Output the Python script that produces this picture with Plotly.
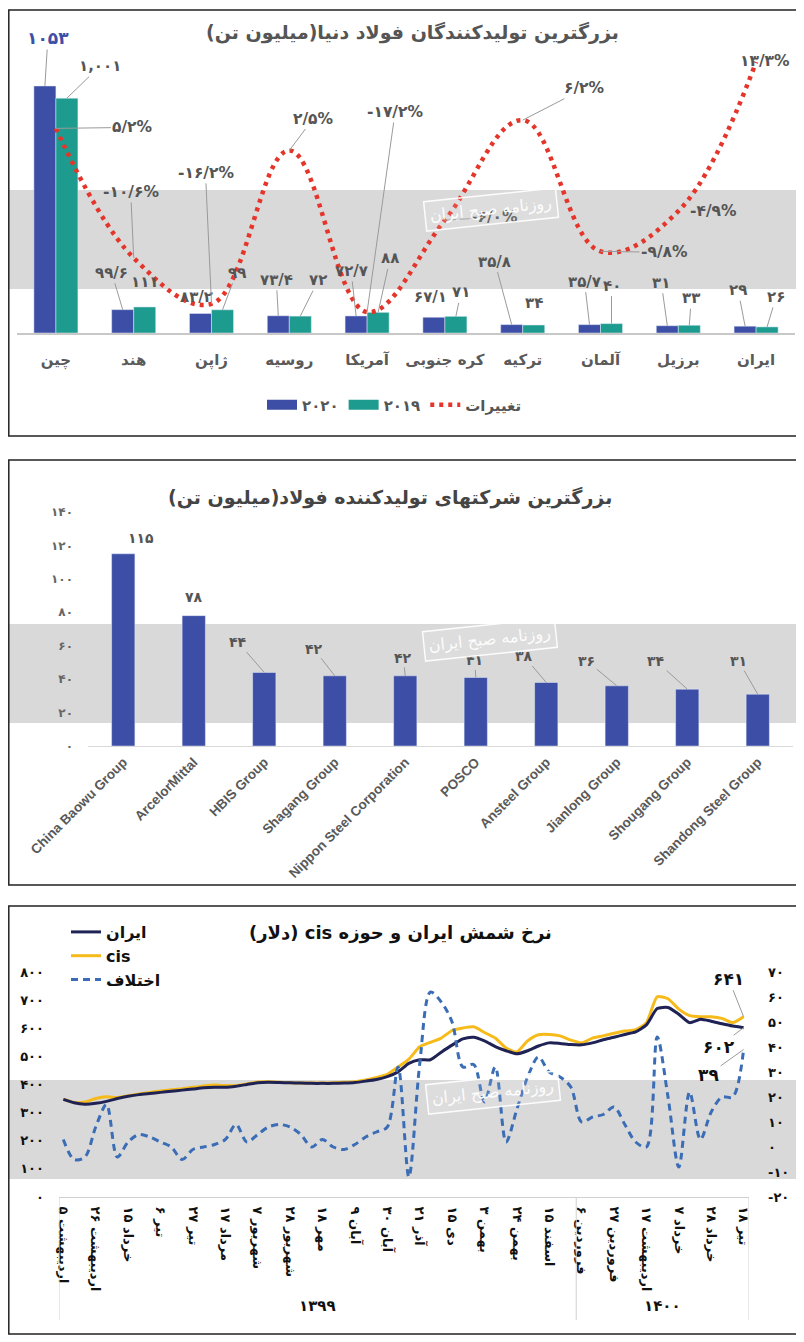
import plotly.graph_objects as go

# page body has an 8px margin: map reference pixels to figure pixels
OFF = 8
W, H = 804 - OFF, 1342 - OFF
def py(p): return 1 - (p - OFF) / H
def px(p): return (p - OFF) / W

FA = str.maketrans("0123456789.", "۰۱۲۳۴۵۶۷۸۹/")
def fa(v, comma=False):
    s = f"{v:,}" if comma else f"{v}"
    return s.translate(FA)
def rtl(s): return "\u202b" + s + "\u202c"

# ---------------- data ----------------
countries = ["چین", "هند", "ژاپن", "روسیه", "آمریکا", "کره جنوبی", "ترکیه", "آلمان", "برزیل", "ایران"]
prod_2020 = [1053, 99.6, 83.2, 73.4, 72.7, 67.1, 35.8, 35.7, 31, 29]
prod_2019 = [1001, 111, 99, 72, 88, 71, 34, 40, 33, 26]
change_pct = [5.2, -10.6, -16.2, 2.5, -17.2, -6.0, 6.2, -9.8, -4.9, 13.3]

companies = ["China Baowu Group", "ArcelorMittal", "HBIS Group", "Shagang Group",
             "Nippon Steel Corporation", "POSCO", "Ansteel Group", "Jianlong Group",
             "Shougang Group", "Shandong Steel Group"]
company_output = [115, 78, 44, 42, 42, 41, 38, 36, 34, 31]

week_labels = ["۵ اردیبهشت", "۲۶ اردیبهشت", "۱۵ خرداد", "۶ تیر", "۲۷ تیر", "۱۷ مرداد",
               "۷ شهریور", "۲۸ شهریور", "۱۸ مهر", "۹ آبان", "۳۰ آبان", "۲۱ آذر",
               "۱۵ دی", "۳ بهمن", "۲۴ بهمن", "۱۵ اسفند", "۶ فروردین", "۲۷ فروردین",
               "۱۷ اردیبهشت", "۷ خرداد", "۲۸ خرداد", "۱۸ تیر"]
year_labels = ["۱۳۹۹", "۱۴۰۰"]
iran_price = [347, 335, 330, 333, 340, 350, 358, 364, 368, 372, 376, 380, 384, 388, 390, 390,
              394, 400, 406, 408, 407, 406, 405, 404, 404, 404, 405, 407, 412, 418, 428, 445,
              475, 488, 488, 515, 540, 562, 568, 555, 535, 520, 509, 520, 537, 548, 546, 542,
              541, 548, 559, 568, 578, 587, 612, 670, 674, 650, 620, 632, 625, 616, 608, 602]
cis_price = [348, 336, 338, 350, 356, 354, 360, 366, 372, 377, 381, 385, 390, 395, 398, 396,
             396, 402, 409, 410, 408, 406, 405, 405, 405, 406, 408, 410, 416, 425, 436, 462,
             490, 534, 550, 565, 592, 601, 605, 585, 565, 530, 516, 555, 577, 578, 573, 558,
             548, 565, 573, 582, 590, 595, 620, 712, 705, 668, 645, 641, 641, 635, 620, 641]
price_gap = [3, -5, -4, 8, 17, -4, 2, 5, 4, 2, 0, -5, -1, 0, 1, 3,
             9, 2, 5, 8, 9, 8, 5, 0, 3, 0, -1, 1, 4, 6, 8, 32,
             -12, 33, 62, 58, 50, 32, 33, 18, 32, 2, 15, 28, 36, 30, 28, 24,
             10, 12, 13, 16, 9, 2, 0, 44, 20, -8, 22, 3, 14, 20, 20, 39]
weeks = list(range(len(iran_price)))

# ---------------- styles ----------------
BLUE = "#3D4EA6"
TEAL = "#1E9B8F"
RED = "#E5352B"
NAVY = "#1E2254"
GOLD = "#F6BA1A"
DASHB = "#3A6DB5"
GRAY_T = "#555555"
LEAD = "#9a9a9a"
FA_FONT = "DejaVu Sans, sans-serif"
EN_FONT = "Liberation Sans, Arial, sans-serif"

fig = go.Figure()

# Panel 1
fig.add_trace(go.Bar(x=countries, y=prod_2020, marker_color=BLUE, name="۲۰۲۰",
                     showlegend=False, xaxis="x", yaxis="y", offsetgroup="a"))
fig.add_trace(go.Bar(x=countries, y=prod_2019, marker_color=TEAL, name="۲۰۱۹",
                     showlegend=False, xaxis="x", yaxis="y", offsetgroup="b"))
fig.add_trace(go.Scatter(x=countries, y=change_pct, mode="lines", name="تغییرات",
                         line=dict(color=RED, width=4.5, dash="4px,5px", shape="spline", smoothing=1.1),
                         xaxis="x", yaxis="y2", legend="legend", legendrank=3))
fig.add_trace(go.Scatter(x=[None], y=[None], mode="lines", name="۲۰۲۰",
                         line=dict(color=BLUE, width=14), xaxis="x", yaxis="y",
                         legend="legend", legendrank=1))
fig.add_trace(go.Scatter(x=[None], y=[None], mode="lines", name="۲۰۱۹",
                         line=dict(color=TEAL, width=14), xaxis="x", yaxis="y",
                         legend="legend", legendrank=2))

# Panel 2
fig.add_trace(go.Bar(x=companies, y=company_output, marker_color=BLUE, width=0.33,
                     showlegend=False, xaxis="x2", yaxis="y3"))

# Panel 3
fig.add_trace(go.Scatter(x=weeks, y=cis_price, mode="lines", name="cis",
                         line=dict(color=GOLD, width=3, shape="spline", smoothing=0.6),
                         xaxis="x3", yaxis="y4", legend="legend2", legendrank=2, legendgroup="c"))
fig.add_trace(go.Scatter(x=weeks, y=iran_price, mode="lines", name="ایران",
                         line=dict(color=NAVY, width=3, shape="spline", smoothing=0.6),
                         xaxis="x3", yaxis="y4", legend="legend2", legendrank=1, legendgroup="i"))
fig.add_trace(go.Scatter(x=weeks, y=price_gap, mode="lines", name="اختلاف",
                         line=dict(color=DASHB, width=3, dash="7px,5px", shape="spline", smoothing=0.9),
                         xaxis="x3", yaxis="y5", legend="legend2", legendrank=3, legendgroup="d"))

# ---------------- annotations ----------------
ann = []
def lab(x, y, text, xref, yref, ax, ay, arrow=True, xshift=0, color=GRAY_T, size=15, family=FA_FONT):
    f = dict(family=family, size=size, color=color, weight="bold")
    if arrow:
        ann.append(dict(x=x, y=y, xref=xref, yref=yref, text=text, showarrow=True, ax=ax, ay=ay,
                        arrowhead=0, arrowwidth=1, arrowcolor=LEAD, standoff=0, xshift=xshift, font=f))
    else:
        ann.append(dict(x=x, y=y, xref=xref, yref=yref, text=text, showarrow=False,
                        xanchor="center", yanchor="middle",
                        xshift=xshift + ax, yshift=-ay, font=f))

off20 = [(3, -48, True), (-11, -37, True), (-4, -16, False), (-2, -36, True), (-5, -45, True),
         (-3, -20, False), (-17, -63, True), (-5, -43, True), (-6, -43, True), (-7, -36, True)]
off19 = [(33, -32, True), (0, -25, False), (14, -37, True), (18, -36, True), (12, -54, True),
         (5, -24, True), (0, -22, False), (0, -38, True), (2, -27, True), (9, -30, True)]
offpc = [(77, -1, True), (-3, -66, True), (-6, -131, True), (24, -32, True), (28, -200, True),
         (50, -3, True), (62, -32, True), (64, 1, True), (35, 0, False), (9, -1, False)]
for i, c in enumerate(countries):
    a, b, s = off20[i]
    lab(c, prod_2020[i], fa(prod_2020[i]), "x", "y", a, b, s, xshift=-11,
        color=BLUE if i == 0 else GRAY_T, size=17 if i == 0 else 15)
    a, b, s = off19[i]
    lab(c, prod_2019[i], fa(prod_2019[i], comma=prod_2019[i] >= 1000), "x", "y", a, b, s, xshift=11)
    a, b, s = offpc[i]
    lab(c, change_pct[i], fa(change_pct[i]) + "%", "x", "y2", a, b, s, size=15.5)

offco = [(18, -16, False), (0, -19, False), (-26, -30, True), (-21, -27, True), (-2, -18, True),
         (-1, -17, True), (-22, -26, True), (-30, -25, True), (-31, -28, True), (-19, -33, True)]
for i, c in enumerate(companies):
    a, b, s = offco[i]
    lab(c, company_output[i], fa(company_output[i]), "x2", "y3", a, b, s, size=14)

lab(weeks[-1], cis_price[-1], fa(cis_price[-1]), "x3", "y4", -15, -38, True, color="#111", size=17)
lab(weeks[-1], iran_price[-1], fa(iran_price[-1]), "x3", "y4", -25, 19, True, color="#111", size=17)
lab(weeks[-1], price_gap[-1], fa(price_gap[-1]), "x3", "y5", -35, 25, True, color="#111", size=17)

def ptext(x, y, text, size, color, xref="paper", **kw):
    d = dict(x=x, y=y, xref=xref, yref="paper", text=text, showarrow=False,
             xanchor="center", yanchor="middle",
             font=dict(family=FA_FONT, size=size, color=color, weight=kw.pop("weight", "bold")))
    d.update(kw)
    ann.append(d)

# group labels
ptext(23.5, py(1306), year_labels[0], 15, "#111", xref="x3")
ptext(55.5, py(1306), year_labels[1], 15, "#111", xref="x3")

# titles
ptext(px(412), py(32), rtl("بزرگترین تولیدکنندگان فولاد دنیا(میلیون تن)"), 19, "#555")
ptext(px(390), py(497), rtl("بزرگترین شرکتهای تولیدکننده فولاد(میلیون تن)"), 19, "#444")
ptext(px(400), py(933), rtl("نرخ شمش ایران و حوزه cis (دلار)"), 18, "#111")

# watermark text boxes
for cx, cy in [(491, 209), (490, 640), (493, 1092)]:
    ptext(px(cx), py(cy), "روزنامه صبح ایران", 16, "rgba(255,255,255,0.95)", weight="normal",
          textangle=-6, bordercolor="rgba(255,255,255,0.9)", borderwidth=1.5, borderpad=4,
          bgcolor="rgba(255,255,255,0.12)")

# ---------------- shapes ----------------
shapes = []
for y0, y1 in [(190, 289), (624, 723), (1080, 1179)]:
    shapes.append(dict(type="rect", xref="paper", yref="paper", x0=px(8), x1=px(796),
                       y0=py(y1), y1=py(y0), fillcolor="#D9D9D9", line=dict(width=0), layer="below"))
for y0, y1 in [(10, 436), (460, 885), (906, 1334)]:
    shapes.append(dict(type="rect", xref="paper", yref="paper", x0=px(8.8), x1=px(797),
                       y0=py(y1), y1=py(y0), line=dict(color="#222", width=1.5)))
for xv in [-0.4, 47.5, 63.5]:
    shapes.append(dict(type="line", xref="x3", yref="paper", x0=xv, x1=xv, y0=py(1320), y1=py(1198),
                       line=dict(color="#d0d0d0", width=1)))

tickf_fa = dict(family=FA_FONT, size=13, color="#111", weight="bold")

fig.update_layout(
    width=W, height=H, autosize=False, margin=dict(l=0, r=0, t=0, b=0, pad=0),
    paper_bgcolor="white", plot_bgcolor="rgba(0,0,0,0)",
    barmode="group", bargap=0.434, bargroupgap=0,
    showlegend=True,
    legend=dict(orientation="h", x=px(262), y=py(405), xanchor="left", yanchor="middle",
                font=dict(family=FA_FONT, size=15, color=GRAY_T, weight="bold"),
                bgcolor="rgba(0,0,0,0)", itemwidth=30, traceorder="normal"),
    legend2=dict(orientation="v", x=px(66), y=py(915), xanchor="left", yanchor="top",
                 font=dict(family=FA_FONT, size=16, color="#111", weight="bold"),
                 bgcolor="rgba(0,0,0,0)", itemwidth=30, tracegroupgap=12, traceorder="normal"),
    xaxis=dict(domain=[px(17), px(795)], anchor="y", type="category", automargin=False,
               showline=True, linecolor="#c8c8c8", linewidth=1.5, showgrid=False, ticks="",
               tickfont=dict(family=FA_FONT, size=15, color="#5a5a5a", weight="bold"),
               ticklabelstandoff=12),
    yaxis=dict(domain=[py(333), py(40)], range=[0, 1249], visible=False, automargin=False),
    yaxis2=dict(overlaying="y", anchor="x", range=[-19.76, 15.98], visible=False, automargin=False),
    xaxis2=dict(domain=[px(88), px(793)], anchor="y3", type="category", automargin=False,
                showline=True, linecolor="#d9d9d9", linewidth=1, showgrid=False, ticks="",
                tickangle=-45, tickfont=dict(family=EN_FONT, size=13.5, color="#595959", weight="bold"),
                ticklabelstandoff=2),
    yaxis3=dict(domain=[py(746), py(512)], anchor="x2", range=[0, 140], automargin=False,
                tickvals=list(range(0, 141, 20)), ticktext=[fa(v) for v in range(0, 141, 20)],
                showgrid=False, zeroline=False, showline=False, ticks="",
                tickfont=dict(family=FA_FONT, size=12, color="#666", weight="bold"),
                ticklabelstandoff=14),
    xaxis3=dict(domain=[px(59), px(749)], anchor="y4", range=[-0.4, 63.5], automargin=False,
                tickvals=list(range(0, 64, 3)), ticktext=week_labels, tickangle=90,
                showline=True, linecolor="#d0d0d0", linewidth=1, showgrid=False, zeroline=False,
                ticks="", tickfont=dict(family=FA_FONT, size=13, color="#111", weight="bold"),
                ticklabelstandoff=6),
    yaxis4=dict(domain=[py(1197), py(972)], anchor="x3", range=[0, 800], automargin=False,
                tickvals=list(range(0, 801, 100)), ticktext=[fa(v) for v in range(0, 801, 100)],
                showgrid=False, zeroline=False, showline=False, ticks="", tickfont=tickf_fa,
                ticklabelstandoff=14),
    yaxis5=dict(overlaying="y4", anchor="x3", side="right", range=[-20, 70], automargin=False,
                tickvals=list(range(-20, 71, 10)), ticktext=[fa(v) for v in range(-20, 71, 10)],
                showgrid=False, zeroline=False, showline=False, ticks="", tickfont=tickf_fa,
                ticklabelstandoff=18),
    annotations=ann, shapes=shapes,
)

fig.write_html("out.html")
